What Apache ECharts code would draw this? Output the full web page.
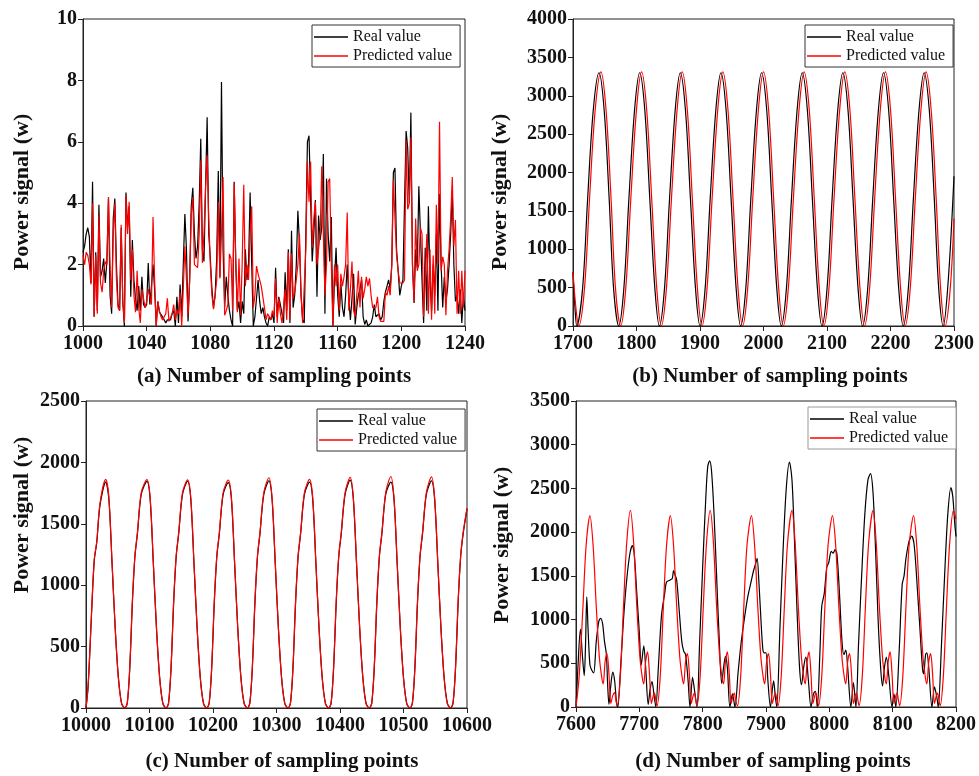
<!DOCTYPE html>
<html>
<head>
<meta charset="utf-8">
<script src="https://cdn.jsdelivr.net/npm/echarts/dist/echarts.min.js"></script>
<style>
  html, body { margin: 0; padding: 0; background: #fff; }
  #chart { width: 979px; height: 776px; }
</style>
</head>
<body>
<div id="chart"></div>
<script>
// ---------- (a) samples 1000..1240, one value per sample ----------
const startA = 1000;
const realA = [
  2.4,2.6,3.0,3.2,2.9,1.4,4.7,0.3,2.4,0.5,
  3.95,1.6,1.8,2.2,1.4,2.1,4.15,1.0,0.4,3.5,
  4.15,2.0,0.7,0.5,3.2,0.8,0.0,4.35,3.2,3.9,
  0.95,2.8,1.5,0.9,0.5,1.3,0.5,1.6,0.7,0.6,
  0.7,2.05,0.7,1.3,2.0,1.2,0.0,0.8,0.45,0.4,
  0.3,0.2,0.1,0.2,0.25,0.2,0.4,0.5,0.0,0.95,
  0.1,1.35,0.3,2.0,3.65,2.5,0.15,1.5,3.9,4.5,
  3.0,2.2,2.6,4.0,6.1,2.5,2.1,4.5,6.8,3.0,
  2.2,1.2,0.6,1.0,2.2,5.05,1.6,7.95,2.5,0.6,
  1.6,1.0,0.5,0.2,0.0,4.7,2.0,0.5,0.8,0.1,
  0.8,0.4,2.5,1.5,2.0,4.35,2.0,0.0,0.3,0.35,
  1.5,0.8,0.4,0.6,0.3,0.1,0.0,0.3,0.2,0.4,
  0.1,1.9,0.3,0.95,0.7,0.4,0.1,1.75,0.5,2.5,
  0.1,3.1,0.6,1.0,2.0,3.75,2.7,1.0,0.2,0.1,
  3.0,6.0,6.2,6.25,2.1,3.0,4.1,0.95,3.6,2.8,
  3.2,5.6,0.4,4.8,3.0,2.1,3.55,0.0,1.5,2.55,
  1.0,0.3,1.4,0.6,0.3,1.0,2.0,0.9,0.2,0.9,
  1.7,0.05,0.6,1.0,1.2,1.5,0.3,0.05,0.2,0.0,
  0.05,0.1,0.3,0.7,0.3,0.35,0.4,0.2,0.3,0.8,
  1.1,1.3,1.5,1.2,2.0,5.0,5.15,2.5,1.8,1.0,
  1.3,1.5,4.0,6.35,5.8,4.0,6.95,2.0,0.75,2.5,
  1.9,4.55,4.55,1.5,0.1,2.55,0.5,3.9,1.5,0.5,
  2.0,1.0,3.0,0.5,4.3,2.0,0.6,1.6,0.8,1.2,
  2.0,3.0,4.4,2.0,0.8,1.0,0.4,1.2,0.1,1.0,
  0.5
];
const predA = [
  2.3,2.0,2.4,2.3,2.0,1.35,4.0,0.3,2.3,0.4,
  3.6,1.4,1.1,1.8,2.1,2.0,4.2,2.0,0.6,3.0,
  4.0,1.5,0.6,0.5,3.3,0.8,0.1,4.25,3.0,4.05,
  1.5,2.5,1.0,0.45,1.8,0.6,0.1,1.2,1.2,0.6,
  0.8,1.2,1.2,0.7,3.55,1.5,0.0,0.8,0.5,0.3,
  0.2,0.2,0.4,0.9,0.15,0.2,0.4,0.7,0.2,0.5,
  0.4,1.1,0.0,1.2,2.6,1.5,0.35,1.5,3.6,4.2,
  2.0,2.0,1.9,3.0,5.4,2.05,3.0,4.5,5.55,3.5,
  2.0,1.0,0.55,1.0,1.5,4.05,1.55,3.0,4.85,0.35,
  0.5,0.7,2.35,2.2,0.5,4.65,2.0,0.45,2.2,0.35,
  2.0,4.6,1.3,2.0,1.5,3.0,3.9,0.6,1.0,1.95,
  1.7,1.5,1.3,1.3,0.6,0.2,0.4,0.3,0.2,0.5,
  0.3,1.55,0.1,0.9,0.4,0.1,0.6,1.2,0.2,2.4,
  0.2,2.35,0.9,1.1,1.5,2.0,3.0,1.0,0.1,0.15,
  2.5,5.35,4.05,5.35,2.55,3.5,4.05,2.0,2.5,3.0,
  5.2,3.0,1.0,2.0,4.7,4.8,2.0,0.0,2.0,1.3,
  2.0,0.5,1.7,1.3,1.6,2.0,3.7,0.5,1.2,2.1,
  0.5,0.3,1.0,1.8,0.6,1.6,0.9,1.2,1.6,1.3,
  1.55,1.0,0.6,0.6,0.6,0.95,0.3,0.15,0.15,0.15,
  1.1,1.0,1.3,1.0,2.0,4.75,4.8,2.3,1.8,1.4,
  1.35,1.4,1.5,6.05,3.8,4.0,6.15,2.0,0.8,3.5,
  1.8,2.0,3.2,3.0,0.3,1.5,3.0,0.4,2.5,0.2,
  2.3,0.4,3.95,2.0,6.65,1.8,2.25,2.0,0.35,1.8,
  2.5,3.5,4.85,2.6,3.45,0.4,1.8,0.4,1.8,0.6,
  1.8
];

// ---------- (b) [sample, power] ----------
const realB = [[1700,700],[1703,250],[1706,0],[1715,480],[1723,1650],[1732,2820],[1741,3300],[1749,2820],[1757,1650],[1764,480],
  [1772,0],[1780,480],[1788,1650],[1797,2820],[1805,3300],[1813,2820],[1821,1650],[1829,480],
  [1836,0],[1844,480],[1852,1650],[1861,2820],[1869,3300],[1877,2820],[1885,1650],[1893,480],
  [1900,0],[1908,480],[1916,1650],[1925,2820],[1933,3300],[1941,2820],[1949,1650],[1957,480],
  [1964,0],[1972,480],[1980,1650],[1989,2820],[1997,3300],[2005,2820],[2013,1650],[2021,480],
  [2028,0],[2036,480],[2044,1650],[2053,2820],[2061,3300],[2069,2820],[2077,1650],[2085,480],
  [2092,0],[2100,480],[2108,1650],[2117,2820],[2125,3300],[2133,2820],[2141,1650],[2149,480],
  [2156,0],[2164,480],[2172,1650],[2181,2820],[2189,3300],[2197,2820],[2205,1650],[2213,480],
  [2220,0],[2228,480],[2236,1650],[2245,2820],[2253,3300],[2261,2820],[2269,1650],[2276,480],
  [2283,0],[2291,600],[2300,1950]];
const predB = [[1700,700],[1705,200],[1709,0],[1718,480],[1726,1650],[1735,2820],[1744,3310],[1752,2820],[1760,1650],[1767,480],
  [1775,0],[1783,480],[1791,1650],[1800,2820],[1808,3310],[1816,2820],[1824,1650],[1832,480],
  [1839,0],[1847,480],[1855,1650],[1864,2820],[1872,3310],[1880,2820],[1888,1650],[1896,480],
  [1903,0],[1911,480],[1919,1650],[1928,2820],[1936,3310],[1944,2820],[1952,1650],[1960,480],
  [1967,0],[1975,480],[1983,1650],[1992,2820],[2000,3310],[2008,2820],[2016,1650],[2024,480],
  [2031,0],[2039,480],[2047,1650],[2056,2820],[2064,3310],[2072,2820],[2080,1650],[2088,480],
  [2095,0],[2103,480],[2111,1650],[2120,2820],[2128,3310],[2136,2820],[2144,1650],[2152,480],
  [2159,0],[2167,480],[2175,1650],[2184,2820],[2192,3310],[2200,2820],[2208,1650],[2216,480],
  [2223,0],[2231,480],[2239,1650],[2248,2820],[2256,3310],[2264,2820],[2272,1650],[2279,480],
  [2286,0],[2294,480],[2300,1400]];

// ---------- (c) [sample, power] ----------
const realC = [[10000,0],[10003,150],[10006,450],[10009,800],[10013,1200],[10017,1350],[10022,1650],[10031,1840],
  [10036,1700],[10041,1180],[10046,650],[10051,250],[10056,40],[10061,0],
  [10065,40],[10069,330],[10073,850],[10077,1230],[10081,1420],[10087,1740],[10096,1845],
  [10101,1700],[10106,1180],[10111,650],[10116,250],[10121,40],[10126,0],
  [10130,40],[10134,330],[10138,850],[10142,1230],[10146,1420],[10152,1740],[10160,1848],
  [10165,1700],[10170,1180],[10175,650],[10180,250],[10185,40],[10190,0],
  [10194,40],[10198,330],[10202,850],[10206,1230],[10210,1420],[10216,1740],[10224,1835],
  [10229,1700],[10234,1180],[10239,650],[10244,250],[10249,40],[10254,0],
  [10258,40],[10262,330],[10266,850],[10270,1230],[10274,1420],[10280,1740],[10288,1850],
  [10293,1700],[10298,1180],[10303,650],[10308,250],[10313,40],[10318,0],
  [10322,40],[10326,330],[10330,850],[10334,1230],[10338,1420],[10344,1740],[10352,1840],
  [10357,1700],[10362,1180],[10367,650],[10372,250],[10377,40],[10382,0],
  [10386,40],[10390,330],[10394,850],[10398,1230],[10402,1420],[10408,1740],[10416,1855],
  [10421,1700],[10426,1180],[10431,650],[10436,250],[10441,40],[10446,0],
  [10450,40],[10454,330],[10458,850],[10462,1230],[10466,1420],[10472,1740],[10480,1840],
  [10485,1700],[10490,1180],[10495,650],[10500,250],[10505,40],[10510,0],
  [10514,40],[10518,330],[10522,850],[10526,1230],[10530,1420],[10536,1740],[10544,1850],
  [10549,1700],[10554,1180],[10559,650],[10564,250],[10569,40],[10574,0],
  [10578,40],[10582,330],[10586,850],[10590,1230],[10594,1420],[10600,1620]];
const predC = [[10000,0],[10003,160],[10006,460],[10009,810],[10013,1210],[10017,1360],[10022,1665],[10031,1862],
  [10036,1715],[10041,1190],[10046,650],[10051,240],[10056,35],[10061,0],
  [10065,40],[10069,340],[10073,870],[10077,1240],[10081,1430],[10087,1755],[10096,1860],
  [10101,1715],[10106,1190],[10111,650],[10116,240],[10121,35],[10126,0],
  [10130,40],[10134,340],[10138,870],[10142,1240],[10146,1430],[10152,1755],[10160,1858],
  [10165,1715],[10170,1190],[10175,650],[10180,240],[10185,35],[10190,0],
  [10194,40],[10198,340],[10202,870],[10206,1240],[10210,1430],[10216,1755],[10224,1855],
  [10229,1715],[10234,1190],[10239,650],[10244,240],[10249,35],[10254,0],
  [10258,40],[10262,340],[10266,870],[10270,1240],[10274,1430],[10280,1755],[10288,1875],
  [10293,1715],[10298,1190],[10303,650],[10308,240],[10313,35],[10318,0],
  [10322,40],[10326,340],[10330,870],[10334,1240],[10338,1430],[10344,1755],[10352,1862],
  [10357,1715],[10362,1190],[10367,650],[10372,240],[10377,35],[10382,0],
  [10386,40],[10390,340],[10394,870],[10398,1240],[10402,1430],[10408,1755],[10416,1878],
  [10421,1715],[10426,1190],[10431,650],[10436,240],[10441,35],[10446,0],
  [10450,40],[10454,340],[10458,870],[10462,1240],[10466,1430],[10472,1755],[10480,1885],
  [10485,1715],[10490,1190],[10495,650],[10500,240],[10505,35],[10510,0],
  [10514,40],[10518,340],[10522,870],[10526,1240],[10530,1430],[10536,1755],[10544,1882],
  [10549,1715],[10554,1190],[10559,650],[10564,240],[10569,35],[10574,0],
  [10578,40],[10582,340],[10586,870],[10590,1240],[10594,1430],[10600,1630]];

// ---------- (d) [sample, power] ----------
const realD = [[7600,0],[7603,450],[7607,890],[7610,600],[7613,360],[7615,700],[7617,1260],[7619,900],[7622,480],[7625,420],
  [7628,390],[7632,750],[7636,980],[7639,1015],[7642,950],[7645,750],[7648,600],[7650,250],[7652,30],[7655,250],
  [7658,400],[7661,300],[7664,50],[7666,0],[7670,400],[7675,1000],[7680,1450],[7685,1750],[7689,1845],[7692,1750],
  [7696,1300],[7700,850],[7703,480],[7707,700],[7710,450],[7714,30],[7717,200],[7720,290],[7723,150],[7726,0],
  [7730,450],[7735,1050],[7740,1300],[7743,1430],[7748,1450],[7752,1470],[7754,1560],[7756,1520],[7759,1450],[7763,1100],
  [7767,750],[7770,640],[7773,600],[7777,300],[7780,0],[7784,340],[7787,200],[7791,0],[7795,700],[7800,1600],
  [7805,2400],[7808,2750],[7811,2815],[7814,2700],[7818,2200],[7822,1500],[7826,800],[7830,270],[7833,450],[7836,580],
  [7839,450],[7843,0],[7847,150],[7851,0],[7856,400],[7861,750],[7866,1015],[7871,1250],[7877,1450],[7880,1550],
  [7882,1600],[7884,1650],[7886,1700],[7889,1400],[7892,1000],[7895,660],[7897,620],[7900,620],[7903,300],[7907,0],
  [7910,200],[7912,300],[7915,100],[7917,0],[7922,900],[7927,1800],[7932,2500],[7937,2800],[7941,2600],[7945,1900],
  [7949,1100],[7953,450],[7956,255],[7960,480],[7963,570],[7967,300],[7971,0],[7975,150],[7978,180],[7981,0],
  [7985,600],[7988,1150],[7992,1300],[7996,1600],[7999,1650],[8003,1780],[8006,1760],[8009,1800],[8012,1750],[8016,1300],
  [8020,750],[8023,600],[8026,650],[8029,450],[8034,0],[8038,280],[8042,0],[8046,700],[8051,1500],[8056,2200],
  [8061,2600],[8065,2670],[8069,2450],[8073,1800],[8077,1000],[8081,450],[8084,240],[8087,450],[8090,570],[8094,350],
  [8099,0],[8102,150],[8105,0],[8110,600],[8115,1400],[8118,1500],[8121,1700],[8126,1900],[8130,1955],[8134,1850],
  [8139,1350],[8143,900],[8147,450],[8149,380],[8152,600],[8154,620],[8157,450],[8162,0],[8166,230],[8170,100],
  [8172,0],[8177,700],[8182,1500],[8187,2200],[8192,2510],[8195,2400],[8198,2100],[8200,1950]];
const predD = [[7600,0],[7605,350],[7611,1150],[7616,1850],[7622,2190],[7627,1850],[7632,1150],[7637,560],[7641,320],[7643,265],
  [7646,520],[7649,610],[7652,380],[7655,40],[7658,130],[7661,165],[7663,80],[7665,15],
  [7670,350],[7675,1150],[7680,1870],[7686,2250],[7691,1880],[7696,1150],[7701,560],[7705,320],[7707,265],
  [7710,520],[7713,630],[7716,380],[7719,40],[7722,130],[7724,160],[7726,80],[7728,15],
  [7733,350],[7738,1150],[7743,1850],[7749,2190],[7754,1850],[7759,1150],[7764,560],[7768,320],[7770,265],
  [7773,520],[7776,610],[7779,380],[7782,40],[7785,130],[7787,160],[7789,80],[7791,15],
  [7796,350],[7801,1150],[7806,1870],[7812,2250],[7817,1880],[7822,1150],[7827,560],[7831,320],[7833,265],
  [7836,520],[7839,630],[7842,380],[7845,40],[7848,130],[7850,160],[7852,80],[7855,15],
  [7860,350],[7865,1150],[7870,1850],[7877,2190],[7882,1850],[7887,1150],[7892,560],[7896,320],[7898,265],
  [7901,520],[7904,610],[7907,380],[7910,40],[7913,130],[7915,160],[7917,80],[7919,15],
  [7924,350],[7929,1150],[7934,1870],[7941,2250],[7946,1880],[7951,1150],[7956,560],[7960,320],[7962,265],
  [7965,520],[7968,630],[7971,380],[7974,40],[7977,130],[7979,160],[7981,80],[7983,15],
  [7988,350],[7993,1150],[7998,1850],[8005,2190],[8010,1850],[8015,1150],[8020,560],[8024,320],[8026,265],
  [8029,520],[8032,610],[8035,380],[8038,40],[8041,130],[8043,160],[8045,80],[8047,15],
  [8052,350],[8057,1150],[8062,1870],[8069,2250],[8074,1880],[8079,1150],[8084,560],[8088,320],[8090,265],
  [8093,520],[8096,630],[8099,380],[8102,40],[8105,130],[8107,160],[8109,80],[8111,15],
  [8116,350],[8121,1150],[8126,1850],[8133,2190],[8138,1850],[8143,1150],[8148,560],[8152,320],[8154,265],
  [8157,520],[8160,610],[8163,380],[8166,40],[8169,130],[8171,160],[8173,80],[8175,15],
  [8180,350],[8185,1150],[8190,1870],[8196,2250],[8200,2150]];

// axis ranges and titles
const panels = [
  { xMin: 1000,  xMax: 1240,  xStep: 40,  yMax: 10,   yStep: 2,   title: '(a) Number of sampling points' },
  { xMin: 1700,  xMax: 2300,  xStep: 100, yMax: 4000, yStep: 500, title: '(b) Number of sampling points' },
  { xMin: 10000, xMax: 10600, xStep: 100, yMax: 2500, yStep: 500, title: '(c) Number of sampling points' },
  { xMin: 7600,  xMax: 8200,  xStep: 100, yMax: 3500, yStep: 500, title: '(d) Number of sampling points' }
];
const seriesNames = ['Real value', 'Predicted value'];
const yTitle = 'Power signal (w)';

// layout (pixels)
const grids = [
  { left: 83,  top: 19,  width: 382, height: 307 },
  { left: 573, top: 19,  width: 381, height: 307 },
  { left: 86,  top: 401, width: 381, height: 307 },
  { left: 576, top: 401, width: 382, height: 306 }
];
const xTitlePos = [[274, 377], [770, 377], [282, 762], [773, 762]];
const yTitlePos = [[22, 192], [500, 192], [22, 515], [502, 545]];
const legendPos = [[312, 25, '#333'], [805, 25, '#333'], [317, 409, '#333'], [808, 407, '#999']];

const SERIF = '"Liberation Serif", "Times New Roman", serif';
const AXIS_COLOR = '#222';

const plain = v => String(v);

const option = {
  animation: false,
  backgroundColor: '#fff',
  grid: grids.map(g => Object.assign({ show: true, borderColor: AXIS_COLOR, borderWidth: 1, backgroundColor: 'transparent' }, g)),
  xAxis: panels.map((p, i) => ({
    type: 'value', gridIndex: i, min: p.xMin, max: p.xMax, interval: p.xStep,
    axisLine: { show: true, onZero: false, lineStyle: { color: AXIS_COLOR, width: 1 } },
    axisTick: { show: true, inside: false, length: 5, lineStyle: { color: AXIS_COLOR } },
    axisLabel: { formatter: plain, fontFamily: SERIF, fontWeight: 'bold', fontSize: 20, color: '#111', margin: 8 },
    splitLine: { show: false }
  })),
  yAxis: panels.map((p, i) => ({
    type: 'value', gridIndex: i, min: 0, max: p.yMax, interval: p.yStep,
    axisLine: { show: true, onZero: false, lineStyle: { color: AXIS_COLOR, width: 1 } },
    axisTick: { show: true, inside: false, length: 5, lineStyle: { color: AXIS_COLOR } },
    axisLabel: { formatter: plain, fontFamily: SERIF, fontWeight: 'bold', fontSize: 20, color: '#111', margin: 6 },
    splitLine: { show: false }
  })),
  legend: legendPos.map(([l, t, bc]) => ({
    left: l, top: t, orient: 'vertical',
    data: seriesNames,
    icon: 'rect',
    itemWidth: 34, itemHeight: 1.5, itemGap: 3,
    padding: [4, 8, 3, 2],
    borderColor: bc, borderWidth: 1, backgroundColor: '#fff',
    selectedMode: false,
    textStyle: { fontFamily: SERIF, fontSize: 16, lineHeight: 16, color: '#111' }
  })),
  graphic: [
    ...panels.map((p, i) => ({
      type: 'text', x: xTitlePos[i][0], y: xTitlePos[i][1], silent: true,
      style: { text: p.title, fontFamily: SERIF, fontWeight: 'bold', fontSize: 21, fill: '#111',
               align: 'center', verticalAlign: 'middle' }
    })),
    ...yTitlePos.map(([x, y]) => ({
      type: 'text', x: x, y: y, rotation: Math.PI / 2, silent: true,
      style: { text: yTitle, fontFamily: SERIF, fontWeight: 'bold', fontSize: 22, fill: '#111',
               align: 'center', verticalAlign: 'middle' }
    }))
  ],
  series: []
};

const lineSeries = (name, idx, data, color, smooth) => ({
  name, type: 'line', xAxisIndex: idx, yAxisIndex: idx, data,
  symbol: 'none', smooth: smooth, clip: true,
  lineStyle: { color, width: 1.2 }, itemStyle: { color }
});

const toPairs = (start, arr) => arr.map((v, i) => [start + i, v]);

option.series.push(
  lineSeries(seriesNames[0], 0, toPairs(startA, realA), '#000', false),
  lineSeries(seriesNames[1], 0, toPairs(startA, predA), '#ff0000', false),
  lineSeries(seriesNames[0], 1, realB, '#000', 0.35),
  lineSeries(seriesNames[1], 1, predB, '#ff0000', 0.35),
  lineSeries(seriesNames[0], 2, realC, '#000', 0.3),
  lineSeries(seriesNames[1], 2, predC, '#ff0000', 0.3),
  lineSeries(seriesNames[0], 3, realD, '#000', 0.3),
  lineSeries(seriesNames[1], 3, predD, '#ff0000', 0.3)
);

const chart = echarts.init(document.getElementById('chart'), null, { renderer: 'canvas' });
chart.setOption(option);
</script>
</body>
</html>
